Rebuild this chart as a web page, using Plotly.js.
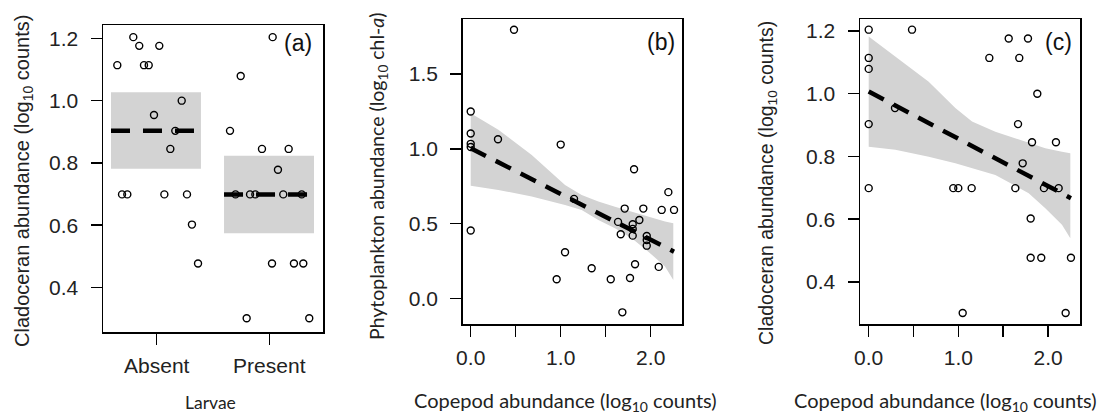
<!DOCTYPE html>
<html>
<head>
<meta charset="utf-8">
<script src="https://cdn.plot.ly/plotly-3.0.1.min.js"></script>
<style>html,body{margin:0;padding:0;background:#fff;}#chart{width:1113px;height:416px;}</style>
</head>
<body>
<div id="chart"></div>
<script>
// ---------- Panel (a): Larvae vs cladoceran abundance ----------
const larvaeCategories = ["Absent", "Present"];
const absentX = [0.650, 0.792, 0.845, 0.887, 0.929, 1.023, 0.976, 1.222, 1.165, 1.121, 0.692, 0.739, 1.068, 1.269, 1.313, 1.367];
const absentY = [1.114, 1.204, 1.176, 1.114, 1.114, 1.176, 0.954, 1.000, 0.903, 0.845, 0.699, 0.699, 0.699, 0.699, 0.602, 0.477];
const presentX = [2.030, 1.746, 1.651, 1.935, 2.172, 2.077, 1.829, 1.876, 2.124, 2.024, 2.219, 2.302, 1.799, 2.355, 1.700, 2.288];
const presentY = [1.204, 1.079, 0.903, 0.845, 0.845, 0.778, 0.699, 0.699, 0.699, 0.477, 0.477, 0.477, 0.301, 0.301, 0.699, 0.699];
const groupMean = [0.903, 0.699];
const groupLow = [0.781, 0.574];
const groupHigh = [1.027, 0.823];
const groupX0 = [0.594, 1.598];
const groupX1 = [1.393, 2.397];

// ---------- Panel (b): copepod vs phytoplankton ----------
const copepodB = [0.481, 0, 0, 0, 0, 0, 0.303, 1.000, 1.148, 1.048, 0.955, 1.344, 1.556, 1.711, 1.637, 1.667, 1.685, 1.815, 1.800, 1.800, 1.800, 1.770, 1.826, 1.874, 1.918, 1.956, 1.956, 1.956, 2.089, 2.122, 2.196, 2.259];
const phytoB = [1.796, 1.249, 1.102, 1.033, 1.012, 0.453, 1.064, 1.028, 0.665, 0.308, 0.127, 0.201, 0.127, 0.600, 0.511, 0.428, -0.094, 0.863, 0.495, 0.464, 0.419, 0.136, 0.228, 0.524, 0.600, 0.417, 0.390, 0.352, 0.210, 0.591, 0.710, 0.591];
const fitBX = [0, 2.259];
const fitBY = [1.004, 0.312];
const bandBX = [0, 0.307, 0.678, 0.900, 1.048, 1.233, 1.418, 1.603, 1.789, 1.974, 2.159, 2.251];
const bandBUpper = [1.238, 1.127, 0.959, 0.837, 0.758, 0.691, 0.647, 0.613, 0.580, 0.546, 0.513, 0.502];
const bandBLower = [0.752, 0.725, 0.680, 0.647, 0.624, 0.591, 0.524, 0.468, 0.402, 0.312, 0.212, 0.122];

// ---------- Panel (c): copepod vs cladoceran ----------
const copepodC = [0, 0, 0, 0, 0, 0.483, 0.293, 0.943, 0.999, 1.148, 1.048, 1.345, 1.561, 1.776, 1.679, 1.880, 1.665, 1.821, 2.088, 1.717, 1.635, 1.954, 2.118, 1.806, 1.806, 1.924, 2.255, 2.196];
const cladoC = [1.204, 1.114, 1.079, 0.903, 0.699, 1.204, 0.954, 0.699, 0.699, 0.699, 0.301, 1.114, 1.176, 1.176, 1.114, 1.000, 0.903, 0.845, 0.845, 0.778, 0.699, 0.699, 0.699, 0.602, 0.477, 0.477, 0.477, 0.301];
const fitCX = [0, 2.255];
const fitCY = [1.007, 0.667];
const bandCX = [0, 0.297, 0.669, 0.966, 1.152, 1.412, 1.784, 1.969, 2.155, 2.248];
const bandCUpper = [1.182, 1.118, 1.038, 0.954, 0.911, 0.879, 0.842, 0.826, 0.815, 0.810];
const bandCLower = [0.831, 0.821, 0.799, 0.778, 0.763, 0.741, 0.683, 0.635, 0.582, 0.539];

const copepodMajorTicks = [0, 1, 2];
const copepodTickText = ["0.0", "1.0", "2.0"];
const copepodMinorTicks = [0.5, 1.5];

// ---------- helpers ----------
const GREY = "rgb(211,211,211)";
function band(xs, up, lo, xa, ya) {
  return {
    x: xs.concat(xs.slice().reverse()),
    y: up.concat(lo.slice().reverse()),
    xaxis: xa, yaxis: ya, type: "scatter", mode: "lines",
    fill: "toself", fillcolor: GREY, line: {width: 0, color: GREY},
    hoverinfo: "skip", showlegend: false
  };
}
function pts(xs, ys, xa, ya) {
  return {
    x: xs, y: ys, xaxis: xa, yaxis: ya, type: "scatter", mode: "markers",
    marker: {symbol: "circle-open", size: 7, color: "#000", line: {width: 1.4, color: "#000"}},
    showlegend: false
  };
}
function dashLine(xs, ys, xa, ya, dash) {
  return {
    x: xs, y: ys, xaxis: xa, yaxis: ya, type: "scatter", mode: "lines",
    line: {color: "#000", width: 4.5, dash: dash}, showlegend: false
  };
}

const traces = [];
for (let i = 0; i < larvaeCategories.length; i++) {
  traces.push(band([groupX0[i], groupX1[i]], [groupHigh[i], groupHigh[i]], [groupLow[i], groupLow[i]], "x", "y"));
}
for (let i = 0; i < larvaeCategories.length; i++) {
  traces.push(dashLine([groupX0[i], groupX1[i]], [groupMean[i], groupMean[i]], "x", "y", "19px,13px"));
}
traces.push(pts(absentX, absentY, "x", "y"));
traces.push(pts(presentX, presentY, "x", "y"));
traces.push(band(bandBX, bandBUpper, bandBLower, "x2", "y2"));
traces.push(dashLine(fitBX, fitBY, "x2", "y2", "17px,11px"));
traces.push(pts(copepodB, phytoB, "x2", "y2"));
traces.push(band(bandCX, bandCUpper, bandCLower, "x3", "y3"));
traces.push(dashLine(fitCX, fitCY, "x3", "y3", "17px,11px"));
traces.push(pts(copepodC, cladoC, "x3", "y3"));

const W = 1113, H = 416;
const tickFont = {family: "Liberation Sans, Arial, sans-serif", size: 21, color: "#222"};
function ax(extra) {
  return Object.assign({
    showline: true, mirror: true, linecolor: "#000", linewidth: 1.5,
    ticks: "outside", ticklen: 11, tickwidth: 1.5, tickcolor: "#000",
    showgrid: false, zeroline: false, tickfont: tickFont, fixedrange: true
  }, extra);
}
const minorTicks = {tickvals: copepodMinorTicks, ticks: "outside", ticklen: 11, tickwidth: 1.5, tickcolor: "#000", showgrid: false};
const yDomA = [(H - 332) / H, (H - 25) / H];
const yDomBC = [(H - 324) / H, (H - 19) / H];

const layout = {
  width: W, height: H,
  margin: {l: 0, r: 0, t: 0, b: 0},
  paper_bgcolor: "#fff", plot_bgcolor: "#fff",
  showlegend: false,
  xaxis: ax({domain: [103 / W, 323 / W], range: [0.523, 2.477], tickvals: [1, 2], ticktext: larvaeCategories, anchor: "y", ticklabelstandoff: 3}),
  yaxis: ax({domain: yDomA, range: [0.257, 1.243], tickvals: [0.4, 0.6, 0.8, 1.0, 1.2], tickformat: ".1f", anchor: "x", ticklabelstandoff: 8}),
  xaxis2: ax({domain: [462.7 / W, 682.3 / W], range: [-0.089, 2.351], tickvals: copepodMajorTicks, ticktext: copepodTickText, minor: minorTicks, anchor: "y2", ticklabelstandoff: 3}),
  yaxis2: ax({domain: yDomBC, range: [-0.172, 1.868], tickvals: [0, 0.5, 1.0, 1.5], tickformat: ".1f", anchor: "x2", ticklabelstandoff: 8}),
  xaxis3: ax({domain: [860 / W, 1080 / W], range: [-0.097, 2.356], tickvals: copepodMajorTicks, ticktext: copepodTickText, minor: minorTicks, anchor: "y3", ticklabelstandoff: 3}),
  yaxis3: ax({domain: yDomBC, range: [0.266, 1.238], tickvals: [0.4, 0.6, 0.8, 1.0, 1.2], tickformat: ".1f", anchor: "x3", ticklabelstandoff: 8}),
  annotations: []
};

const arialA = {family: "Liberation Sans, Arial, sans-serif", size: 20, color: "#222"};
const arialC = {family: "Liberation Sans, Arial, sans-serif", size: 19.5, color: "#222"};
const caliY = {family: "Lato, Carlito, sans-serif", size: 19.5, color: "#222"};
const caliX = {family: "Lato, Carlito, sans-serif", size: 20, color: "#222"};
const caliL = {family: "Lato, Carlito, sans-serif", size: 17.5, color: "#222"};
function ann(text, px, py, font, angle) {
  layout.annotations.push({
    text: text, xref: "paper", yref: "paper", x: px / W, y: (H - py) / H,
    xanchor: "center", yanchor: "middle", showarrow: false, font: font, textangle: angle || 0
  });
}
ann("Cladoceran abundance (log<sub>10</sub> counts)", 23, 181, arialA, -90);
ann("Phytoplankton abundance (log<sub>10</sub> chl-<i>a</i>)", 378, 176, caliY, -90);
ann("Cladoceran abundance (log<sub>10</sub> counts)", 767, 183, arialC, -90);
ann("Larvae", 210, 402, caliL);
ann("Copepod abundance (log<sub>10</sub> counts)", 565, 401, caliX);
ann("Copepod abundance (log<sub>10</sub> counts)", 945, 401, caliX);

function label(text, rightPx, cyPx) {
  layout.annotations.push({
    text: text, xref: "paper", yref: "paper", x: rightPx / W, y: (H - cyPx) / H,
    xanchor: "right", yanchor: "middle", showarrow: false,
    font: {family: "Liberation Sans, Arial, sans-serif", size: 23, color: "#111"}
  });
}
label("(a)", 314, 43);
label("(b)", 677, 42);
label("(c)", 1074, 42);

Plotly.newPlot("chart", traces, layout, {displayModeBar: false, staticPlot: true});
</script>
</body>
</html>
